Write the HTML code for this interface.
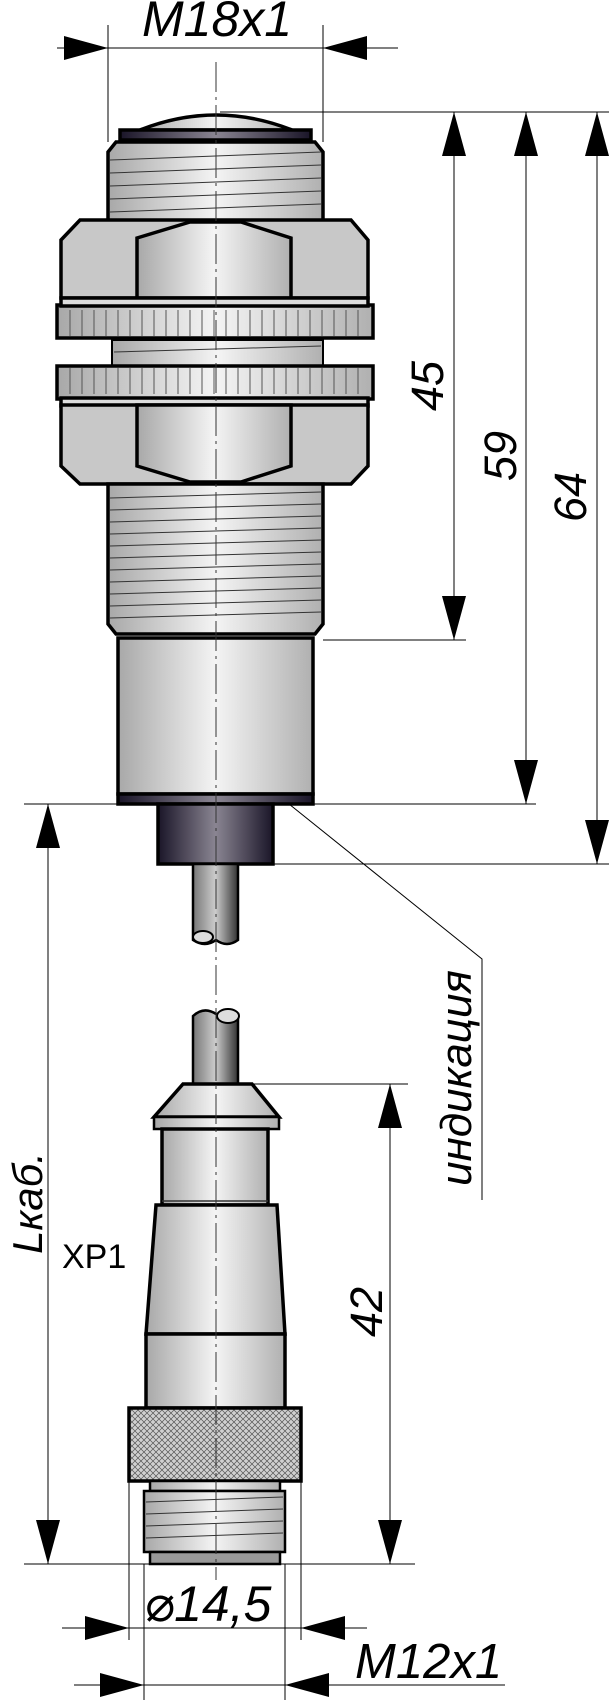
<!DOCTYPE html>
<html><head><meta charset="utf-8"><style>
html,body{margin:0;padding:0;background:#fff}
svg{display:block}
text{font-family:"Liberation Sans","DejaVu Sans",sans-serif;font-style:italic;fill:#000}
</style></head><body>
<svg width="609" height="1700" viewBox="0 0 609 1700" xmlns="http://www.w3.org/2000/svg">
<defs>
<linearGradient id="m" x1="0" x2="1" y1="0" y2="0">
<stop offset="0" stop-color="#a8a8a8"/><stop offset="0.5" stop-color="#f4f4f4"/><stop offset="1" stop-color="#b0b0b0"/></linearGradient>
<linearGradient id="d" x1="0" x2="1" y1="0" y2="0">
<stop offset="0" stop-color="#1a1528"/><stop offset="0.5" stop-color="#8a8592"/><stop offset="1" stop-color="#1a1528"/></linearGradient>
<linearGradient id="c" x1="0" x2="1" y1="0" y2="0">
<stop offset="0" stop-color="#777"/><stop offset="0.5" stop-color="#ccc"/><stop offset="1" stop-color="#333"/></linearGradient>
<pattern id="k" width="6" height="6" patternUnits="userSpaceOnUse">
<rect width="6" height="6" fill="#d0d0d0"/><path d="M0,0L6,6M6,0L0,6" stroke="#555" stroke-width="0.7"/></pattern>
<marker id="a" viewBox="0 0 44 24" refX="44" refY="12" markerWidth="44" markerHeight="24" markerUnits="userSpaceOnUse" orient="auto-start-reverse"><path d="M0,0L44,12L0,24Z" fill="#000"/></marker>
</defs>
<g stroke="#000" stroke-width="1" fill="none">
<line x1="108" y1="25" x2="108" y2="142"/><line x1="323" y1="25" x2="323" y2="142"/>
<line x1="220" y1="112" x2="609" y2="112"/>
<line x1="323" y1="640" x2="466" y2="640"/>
<line x1="24" y1="804" x2="536" y2="804"/>
<line x1="273" y1="864" x2="609" y2="864"/>
<line x1="252" y1="1084" x2="408" y2="1084"/>
<line x1="24" y1="1564" x2="415" y2="1564"/>
<line x1="129" y1="1481" x2="129" y2="1640"/><line x1="301" y1="1481" x2="301" y2="1640"/>
<line x1="144" y1="1564" x2="144" y2="1700"/><line x1="285" y1="1564" x2="285" y2="1700"/>
<line x1="57" y1="48" x2="108" y2="48" marker-end="url(#a)"/>
<line x1="398" y1="48" x2="323" y2="48" marker-end="url(#a)"/>
<line x1="108" y1="48" x2="323" y2="48"/>
<line x1="454" y1="112" x2="454" y2="640" marker-start="url(#a)" marker-end="url(#a)"/>
<line x1="526" y1="112" x2="526" y2="804" marker-start="url(#a)" marker-end="url(#a)"/>
<line x1="597" y1="112" x2="597" y2="864" marker-start="url(#a)" marker-end="url(#a)"/>
<line x1="48" y1="804" x2="48" y2="1564" marker-start="url(#a)" marker-end="url(#a)"/>
<line x1="390" y1="1084" x2="390" y2="1564" marker-start="url(#a)" marker-end="url(#a)"/>
<line x1="62" y1="1628" x2="129" y2="1628" marker-end="url(#a)"/>
<line x1="367" y1="1628" x2="301" y2="1628" marker-end="url(#a)"/>
<line x1="129" y1="1628" x2="301" y2="1628"/>
<line x1="74" y1="1685" x2="144" y2="1685" marker-end="url(#a)"/>
<line x1="505" y1="1685" x2="285" y2="1685" marker-end="url(#a)"/>
<line x1="144" y1="1685" x2="285" y2="1685"/>
<polyline points="289,804 482,959 482,1200"/>
</g>
<g stroke="#000" stroke-width="3.5" stroke-linejoin="miter">
<path d="M140,130 Q216,100 292,130Z" fill="url(#m)"/>
<rect x="120" y="130" width="191" height="10" fill="url(#d)"/>
<path d="M108,222 L108,152 L116,142 L315,142 L323,152 L323,222Z" fill="url(#m)"/>
<path d="M61,298 L61,240 L80,220 L351,220 L368,240 L368,298Z" fill="#c8c8c8"/>
<path d="M137,298 L137,238 L190,222 L241,222 L291,238 L291,298Z" fill="url(#m)"/>
<rect x="57" y="305" width="316" height="33" fill="url(#m)"/>
<rect x="61" y="298" width="307" height="8" fill="#ddd"/>
<rect x="112" y="340" width="211" height="26" fill="url(#m)" stroke-width="2"/>
<rect x="57" y="366" width="316" height="33" fill="url(#m)"/>
<rect x="61" y="398" width="307" height="8" fill="#ddd"/>
<path d="M61,405 L61,466 L80,484 L351,484 L368,466 L368,405Z" fill="#c8c8c8"/>
<path d="M137,405 L137,466 L190,482 L241,482 L291,466 L291,405Z" fill="url(#m)"/>
<path d="M108,484 L108,624 L116,634 L315,634 L323,624 L323,484Z" fill="url(#m)"/>
<rect x="118" y="638" width="195" height="156" fill="url(#m)"/>
<rect x="118" y="794" width="195" height="10" fill="url(#d)"/>
<rect x="158" y="804" width="115" height="60" fill="url(#d)"/>
<path d="M193,864 L193,940 Q205,948 216,940 Q227,948 238,940 L238,864Z" fill="url(#c)" stroke-width="2.5"/>
<ellipse cx="203" cy="937" rx="10" ry="6" fill="#ddd" stroke-width="2"/>
<path d="M193,1084 L193,1016 Q204,1006 216,1014 L238,1014 L238,1084Z" fill="url(#c)" stroke-width="2.5"/>
<ellipse cx="228" cy="1016" rx="11" ry="7" fill="#ddd" stroke-width="2"/>
<path d="M183,1084 L252,1084 L279,1117 L154,1117Z" fill="url(#m)"/>
<rect x="154" y="1117" width="125" height="12" fill="url(#m)" stroke-width="2.5"/>
<rect x="162" y="1129" width="106" height="76" fill="url(#m)"/>
<path d="M156,1205 L277,1205 L285,1334 L146,1334Z" fill="url(#m)"/>
<rect x="146" y="1334" width="139" height="74" fill="url(#m)"/>
<rect x="129" y="1408" width="172" height="73" fill="url(#k)"/>
<rect x="150" y="1481" width="130" height="10" fill="url(#m)" stroke-width="2.5"/>
<rect x="144" y="1491" width="141" height="61" fill="url(#m)" stroke-width="2.5"/>
<rect x="150" y="1552" width="130" height="12" fill="#999" stroke-width="2.5"/>
</g>
<g stroke="#333" stroke-width="1">
<line x1="110" y1="160" x2="321" y2="152"/><line x1="110" y1="173" x2="321" y2="165"/><line x1="110" y1="186" x2="321" y2="178"/><line x1="110" y1="199" x2="321" y2="191"/><line x1="110" y1="212" x2="321" y2="204"/>
<line x1="114" y1="352" x2="321" y2="346"/>
<line x1="110" y1="498" x2="321" y2="492"/><line x1="110" y1="510" x2="321" y2="504"/><line x1="110" y1="522" x2="321" y2="516"/><line x1="110" y1="534" x2="321" y2="528"/><line x1="110" y1="546" x2="321" y2="540"/><line x1="110" y1="558" x2="321" y2="552"/><line x1="110" y1="570" x2="321" y2="564"/><line x1="110" y1="582" x2="321" y2="576"/><line x1="110" y1="594" x2="321" y2="588"/><line x1="110" y1="606" x2="321" y2="600"/><line x1="110" y1="618" x2="321" y2="612"/>
<line x1="146" y1="1502" x2="283" y2="1497"/><line x1="146" y1="1514" x2="283" y2="1509"/><line x1="146" y1="1526" x2="283" y2="1521"/><line x1="146" y1="1538" x2="283" y2="1533"/>
<line x1="162" y1="1201" x2="268" y2="1201" stroke-width="1.5"/>
</g>
<g stroke="#555" stroke-width="1">
<path d="M70,310v26M82,310v26M94,310v26M106,310v26M118,310v26M130,310v26M142,310v26M154,310v26M166,310v26M178,310v26M190,310v26M202,310v26M214,310v26M226,310v26M238,310v26M250,310v26M262,310v26M274,310v26M286,310v26M298,310v26M310,310v26M322,310v26M334,310v26M346,310v26M358,310v26"/>
<path d="M70,368v26M82,368v26M94,368v26M106,368v26M118,368v26M130,368v26M142,368v26M154,368v26M166,368v26M178,368v26M190,368v26M202,368v26M214,368v26M226,368v26M238,368v26M250,368v26M262,368v26M274,368v26M286,368v26M298,368v26M310,368v26M322,368v26M334,368v26M346,368v26M358,368v26"/>
</g>
<line x1="216" y1="62" x2="216" y2="1580" stroke="#333" stroke-width="1" stroke-dasharray="30,5,3,5"/>
<text x="142" y="36" font-size="50">M18x1</text>
<text transform="translate(443,386) rotate(-90)" font-size="45" text-anchor="middle">45</text>
<text transform="translate(516,456) rotate(-90)" font-size="45" text-anchor="middle">59</text>
<text transform="translate(586,497) rotate(-90)" font-size="45" text-anchor="middle">64</text>
<text transform="translate(42,1203) rotate(-90)" font-size="42" text-anchor="middle">Lкаб.</text>
<text x="62" y="1268" font-size="34" style="font-style:normal">XP1</text>
<text transform="translate(471,1078) rotate(-90)" font-size="44" text-anchor="middle">индикация</text>
<text transform="translate(382,1312) rotate(-90)" font-size="45" text-anchor="middle">42</text>
<text x="144" y="1621" font-size="50">⌀14,5</text>
<text x="355" y="1678" font-size="49">M12x1</text>
</svg>
</body></html>
